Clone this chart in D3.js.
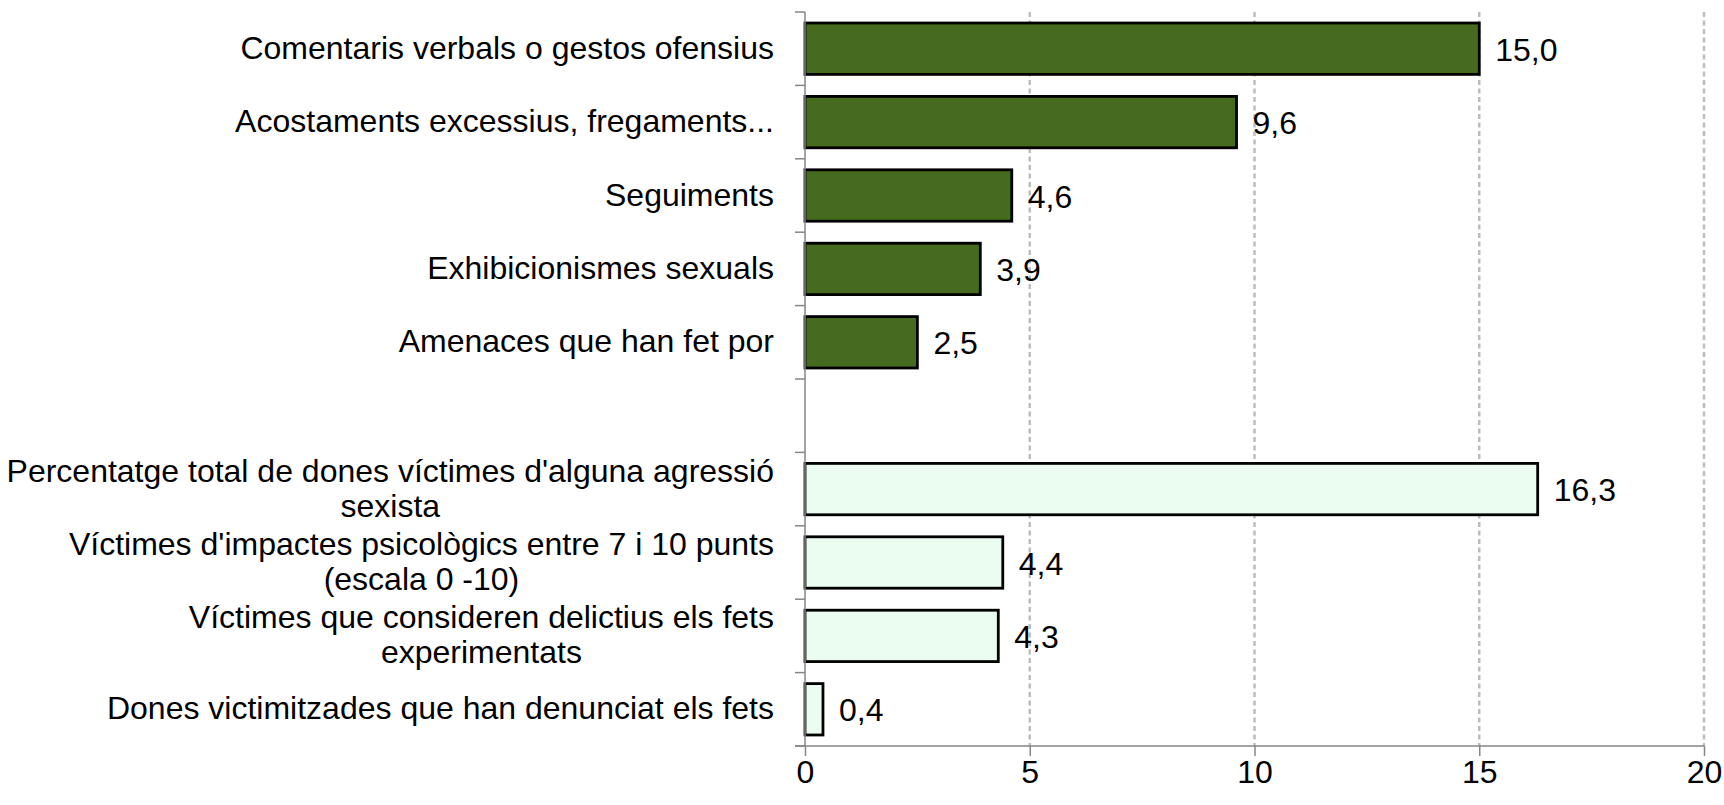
<!DOCTYPE html>
<html>
<head>
<meta charset="utf-8">
<script src="https://cdn.jsdelivr.net/npm/d3@7"></script>
<style>
  html, body { margin: 0; padding: 0; background: #fff; }
  svg { display: block; }
  text { font-family: "Liberation Sans", Arial, sans-serif; fill: #000; }
</style>
</head>
<body>
<svg width="1724" height="805"></svg>
<script>
// first group: types of aggression (dark green)
var typeLabels = [
  "Comentaris verbals o gestos ofensius",
  "Acostaments excessius, fregaments...",
  "Seguiments",
  "Exhibicionismes sexuals",
  "Amenaces que han fet por"
];
var typeValues = [15.0, 9.6, 4.6, 3.9, 2.5];

// second group: victims summary (light fill)
var victimLabels = [
  "Percentatge total de dones víctimes d'alguna agressió\nsexista",
  "Víctimes d'impactes psicològics entre 7 i 10 punts\n(escala 0 -10)",
  "Víctimes que consideren delictius els fets\nexperimentats",
  "Dones victimitzades que han denunciat els fets"
];
var victimValues = [16.3, 4.4, 4.3, 0.4];

var xTicks = [0, 5, 10, 15, 20];

var svg = d3.select("svg"),
  plot = { left: 805, right: 1704, top: 12, bottom: 746 },
  labelRight = 774,
  fontSize = 32;

var rows = typeLabels.map(function(d, i) {
  return { id: "a" + i, label: d, value: typeValues[i], fill: "#466b1e" };
});
rows.push({ id: "gap", label: "", value: null });
victimLabels.forEach(function(d, i) {
  rows.push({ id: "b" + i, label: d, value: victimValues[i], fill: "#ebfdf0" });
});

var x = d3.scaleLinear().domain([0, 20]).range([plot.left, plot.right]);
var y = d3.scaleBand()
  .domain(rows.map(function(d) { return d.id; }))
  .range([plot.top, plot.bottom])
  .paddingInner(0.3)
  .paddingOuter(0.15);

var step = y.step(),
  half = y.bandwidth() / 2;

// dashed vertical gridlines
svg.append("g")
  .selectAll("line")
  .data(xTicks.slice(1))
  .enter().append("line")
  .attr("x1", function(d) { return x(d); })
  .attr("x2", function(d) { return x(d); })
  .attr("y1", plot.top)
  .attr("y2", plot.bottom)
  .style("stroke", "#bdbdbd")
  .style("stroke-width", 2.5)
  .style("stroke-dasharray", "5,3.5");

// bars
var valued = rows.filter(function(d) { return d.value !== null; });

svg.append("g")
  .selectAll("rect")
  .data(valued)
  .enter().append("rect")
  .attr("x", x(0))
  .attr("y", function(d) { return y(d.id); })
  .attr("width", function(d) { return x(d.value) - x(0); })
  .attr("height", y.bandwidth())
  .style("fill", function(d) { return d.fill; })
  .style("stroke", "#000")
  .style("stroke-width", 2.8);

// value labels
svg.append("g")
  .selectAll("text")
  .data(valued)
  .enter().append("text")
  .attr("x", function(d) { return x(d.value) + 16; })
  .attr("y", function(d) { return y(d.id) + half + 12; })
  .style("font-size", fontSize + "px")
  .text(function(d) { return d3.format(".1f")(d.value).replace(".", ","); });

// y axis: line plus ticks at band boundaries
var yAxis = svg.append("g");
yAxis.append("line")
  .attr("x1", plot.left).attr("x2", plot.left)
  .attr("y1", plot.top).attr("y2", plot.bottom)
  .style("stroke", "#868686").style("stroke-width", 1.5);

var bounds = rows.map(function(d) { return y(d.id) - step * y.paddingInner() / 2; });
bounds.push(plot.bottom);
yAxis.selectAll(".tick")
  .data(bounds)
  .enter().append("line")
  .attr("class", "tick")
  .attr("x1", plot.left - 10).attr("x2", plot.left)
  .attr("y1", function(d) { return d; })
  .attr("y2", function(d) { return d; })
  .style("stroke", "#868686").style("stroke-width", 1.5);

// category labels, multi-line ones centred on their widest line
var labels = svg.append("g")
  .selectAll("text")
  .data(rows.filter(function(d) { return d.label; }))
  .enter().append("text")
  .style("font-size", fontSize + "px")
  .attr("text-anchor", "middle");

labels.each(function(d) {
  var t = d3.select(this),
    lines = d.label.split("\n"),
    lh = 35,
    base = y(d.id) + half + 10 - (lines.length - 1) * lh / 2;
  lines.forEach(function(line, i) {
    t.append("tspan").attr("y", base + i * lh).text(line);
  });
  var w = d3.max(t.selectAll("tspan").nodes(), function(n) { return n.getComputedTextLength(); });
  t.selectAll("tspan").attr("x", labelRight - w / 2);
});

// x axis
var xAxis = svg.append("g")
  .attr("transform", "translate(0," + plot.bottom + ")")
  .call(d3.axisBottom(x).tickValues(xTicks).tickSize(10).tickPadding(0).tickFormat(d3.format("d")));

xAxis.select(".domain")
  .attr("d", "M" + (plot.left - 10) + ",0H" + plot.right)
  .style("stroke", "#868686").style("stroke-width", 1.5);
xAxis.selectAll(".tick line").style("stroke", "#868686").style("stroke-width", 1.5);
xAxis.selectAll(".tick text")
  .attr("dy", null)
  .attr("y", 37)
  .style("font-size", fontSize + "px")
  .style("font-family", "'Liberation Sans', Arial, sans-serif")
  .style("fill", "#000");
</script>
</body>
</html>
